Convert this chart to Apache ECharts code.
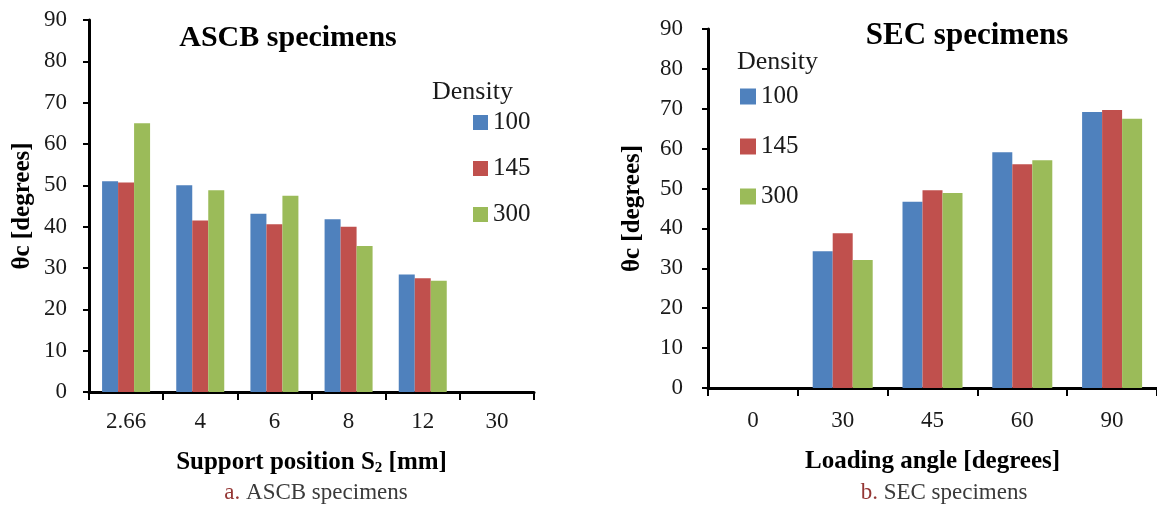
<!DOCTYPE html>
<html>
<head>
<meta charset="utf-8">
<script src="https://cdn.jsdelivr.net/npm/echarts@6/dist/echarts.min.js"></script>
<style>
html,body{margin:0;padding:0;background:#fff;}
#chart{width:1157px;height:506px;}
</style>
</head>
<body>
<div id="chart"></div>
<script>
// ---- data ----
const ascbCategories = ['2.66', '4', '6', '8', '12', '30'];
const ascb100 = [51.0, 50.0, 43.1, 41.8, 28.4, null];
const ascb145 = [50.7, 41.5, 40.6, 40.0, 27.5, null];
const ascb300 = [65.0, 48.8, 47.5, 35.3, 26.9, null];

const secCategories = ['0', '30', '45', '60', '90'];
const sec100 = [null, 34.3, 46.7, 59.1, 69.2];
const sec145 = [null, 38.8, 49.6, 56.1, 69.7];
const sec300 = [null, 32.1, 48.9, 57.1, 67.5];

const densityNames = ['100', '145', '300'];
const yTicks = { min: 0, max: 90, interval: 10 };

// ---- style ----
const FONT = "'Liberation Serif', 'DejaVu Serif', serif";
const colors = ['#4F81BD', '#C0504D', '#9BBB59'];

function yAxis(gridIndex, labelMargin, nameGap) {
  return {
    type: 'value', gridIndex: gridIndex,
    min: yTicks.min, max: yTicks.max, interval: yTicks.interval,
    name: 'θc [degrees]', nameLocation: 'middle', nameGap: nameGap,
    nameTextStyle: { fontFamily: FONT, fontSize: 25, fontWeight: 'bold', color: '#000' },
    axisLine: { show: true, lineStyle: { color: '#000', width: 3 } },
    axisTick: { show: true, length: 6, lineStyle: { color: '#000', width: 2 } },
    axisLabel: { fontFamily: FONT, fontSize: 23, color: '#1a1a1a', margin: labelMargin },
    splitLine: { show: false }
  };
}

function xAxis(gridIndex, cats, name, nameGap, labelMargin) {
  return {
    type: 'category', gridIndex: gridIndex, data: cats,
    name: name, nameLocation: 'middle', nameGap: nameGap,
    nameTextStyle: {
      fontFamily: FONT, fontSize: 25, fontWeight: 'bold', color: '#000',
      rich: { sub: { fontFamily: FONT, fontSize: 15, fontWeight: 'bold', color: '#000', verticalAlign: 'bottom', padding: [12, 0, 0, 0] } }
    },
    axisLine: { show: true, lineStyle: { color: '#000', width: 3 } },
    axisTick: { show: true, length: 8, lineStyle: { color: '#000', width: 2 } },
    axisLabel: { fontFamily: FONT, fontSize: 23, color: '#1a1a1a', margin: labelMargin },
    splitLine: { show: false }
  };
}

const ascbSeries = [ascb100, ascb145, ascb300];
const secSeries = [sec100, sec145, sec300];
const series = [];
ascbSeries.forEach((d, i) => series.push({
  name: densityNames[i], type: 'bar', xAxisIndex: 0, yAxisIndex: 0, data: d,
  barWidth: 16, barGap: '0%', itemStyle: { color: colors[i] }, animation: false
}));
secSeries.forEach((d, i) => series.push({
  name: densityNames[i], type: 'bar', xAxisIndex: 1, yAxisIndex: 1, data: d,
  barWidth: 20, barGap: '0%', itemStyle: { color: colors[i] }, animation: false
}));

function legend(left, top, gap, size) {
  return {
    orient: 'vertical', left: left, top: top, itemGap: gap, padding: 0,
    itemWidth: size, itemHeight: size, icon: 'rect', selectedMode: false,
    data: densityNames,
    textStyle: { fontFamily: FONT, fontSize: 25, color: '#1a1a1a' }
  };
}

function txt(x, y, text, size, weight, extra) {
  return {
    type: 'text', x: x, y: y, silent: true,
    style: Object.assign({
      text: text, fontFamily: FONT, fontSize: size, fontWeight: weight,
      fill: '#000', textAlign: 'center', textVerticalAlign: 'middle'
    }, extra || {})
  };
}

const capRich = {
  r: { fontFamily: FONT, fontSize: 23, fill: '#943634' },
  t: { fontFamily: FONT, fontSize: 23, fill: '#3a3a3a' }
};

const option = {
  backgroundColor: '#fff',
  animation: false,
  grid: [
    { left: 89, top: 20, width: 445, height: 372 },
    { left: 708, top: 29, width: 450, height: 359 }
  ],
  xAxis: [
    xAxis(0, ascbCategories, 'Support position S{sub|2} [mm]', 57, 18),
    xAxis(1, secCategories, 'Loading angle [degrees]', 61, 21)
  ],
  yAxis: [yAxis(0, 22, 54), yAxis(1, 25, 63)],
  legend: [legend(473, 110, 21, 15), legend(740, 84, 25, 16)],
  series: series,
  graphic: [
    txt(288, 38, 'ASCB specimens', 30, 'bold'),
    txt(967, 36, 'SEC specimens', 31, 'bold'),
    txt(432, 92, 'Density', 26, 'normal', { textAlign: 'left', fill: '#1a1a1a' }),
    txt(737, 62, 'Density', 26, 'normal', { textAlign: 'left', fill: '#1a1a1a' }),
    txt(316, 493, '{r|a.} {t|ASCB specimens}', 23, 'normal', { rich: capRich }),
    txt(944, 493, '{r|b.} {t|SEC specimens}', 23, 'normal', { rich: capRich })
  ]
};

const chart = echarts.init(document.getElementById('chart'), null, { renderer: 'canvas' });
chart.setOption(option);
</script>
</body>
</html>
